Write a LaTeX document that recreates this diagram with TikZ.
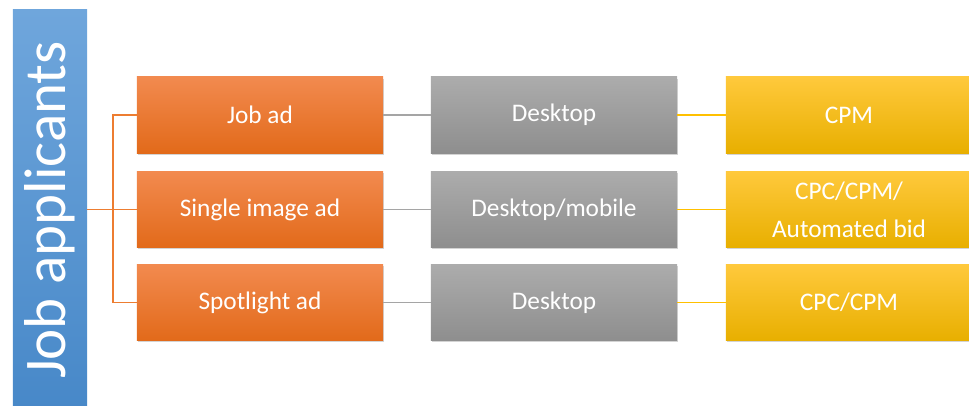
\documentclass[tikz,border=0pt]{standalone}
\usepackage{fontspec}
\setmainfont{Carlito}
\usepackage{tikz}
\usetikzlibrary{positioning,shadows}
\definecolor{barTop}{HTML}{6FA6DC}
\definecolor{barBot}{HTML}{4788C8}
\definecolor{adTop}{HTML}{F28A4F}
\definecolor{adBot}{HTML}{E26A1A}
\definecolor{devTop}{HTML}{ACACAC}
\definecolor{devBot}{HTML}{8E8E8E}
\definecolor{bidTop}{HTML}{FFC93C}
\definecolor{bidBot}{HTML}{E8AF00}
\definecolor{adLine}{HTML}{ED7D31}
\definecolor{devLine}{HTML}{A5A5A5}
\definecolor{bidLine}{HTML}{FFC000}

\begin{document}
\begin{tikzpicture}[
    x=0.025cm,y=0.025cm,
    every node/.style={font=\fontsize{18}{27}\selectfont,text=white},
    box/.style={rectangle,minimum width=6.15cm,minimum height=1.9cm,inner sep=2pt,align=center,
                drop shadow={opacity=0.35,shadow xshift=0.6pt,shadow yshift=-1.4pt}},
    adbox/.style={box,top color=adTop,bottom color=adBot},
    devbox/.style={box,top color=devTop,bottom color=devBot},
    bidbox/.style={box,top color=bidTop,bottom color=bidBot},
    adln/.style={adLine,line width=1pt},
    devln/.style={devLine,line width=1pt},
    bidln/.style={bidLine,line width=1pt}
  ]
  \useasboundingbox (0,0) rectangle (969,406);
  %% Audience bar
  \node[rectangle,minimum width=1.85cm,minimum height=10cm,inner sep=0pt,
        top color=barTop,bottom color=barBot] (jobs) at (50,196)
        {\rotatebox{90}{\fontsize{42}{50}\selectfont Job applicants}};
  %% Ad formats
  \node[adbox] (jobad)  at (260,291)   {Job ad};
  \node[adbox] (single) at (260,196.5) {Single image ad};
  \node[adbox] (spot)   at (260,103.5) {Spotlight ad};
  %% Devices
  \node[devbox] (dev1) at (554,291)   {Desktop};
  \node[devbox] (dev2) at (554,196.5) {Desktop/mobile};
  \node[devbox] (dev3) at (554,103.5) {Desktop};
  %% Bidding
  \node[bidbox] (bid1) at (849,291)   {CPM};
  \node[bidbox] (bid2) at (849,196.5) {CPC/CPM/\\Automated bid};
  \node[bidbox] (bid3) at (849,103.5) {CPC/CPM};
  %% Tree connectors
  \coordinate (split) at (113,196.5);
  \draw[adln] (jobs.east |- split) -- (single.west);
  \draw[adln] (jobad.west) -| (split) |- (spot.west);
  \draw[devln] (jobad)  -- (dev1);
  \draw[devln] (single) -- (dev2);
  \draw[devln] (spot)   -- (dev3);
  \draw[bidln] (dev1) -- (bid1);
  \draw[bidln] (dev2) -- (bid2);
  \draw[bidln] (dev3) -- (bid3);
\end{tikzpicture}
\end{document}
